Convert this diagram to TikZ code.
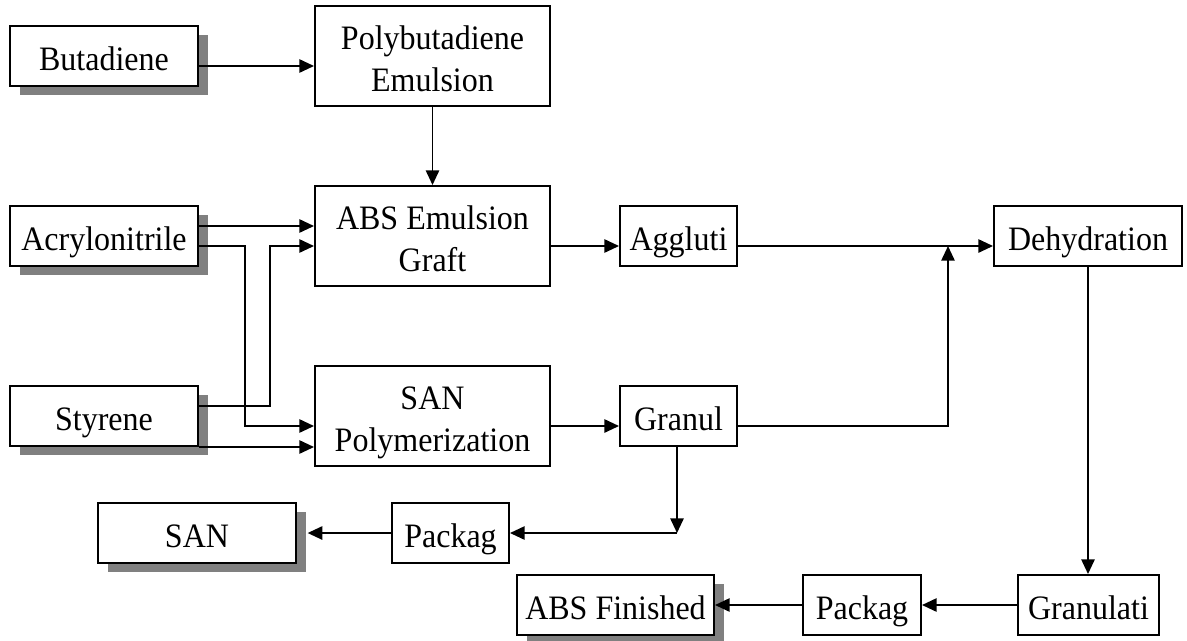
\documentclass[tikz,border=0pt]{standalone}
\usepackage{fontspec}
\usepackage{graphicx}
\setmainfont{Liberation Serif}
\usetikzlibrary{arrows.meta,shadows}
\newcommand\oneline[1]{\raisebox{-10.7pt}[0pt][0pt]{\scalebox{1}[1.07]{#1}}}
\newcommand\twoline[2]{\raisebox{4.7pt}[0pt][0pt]{\scalebox{1}[1.07]{\begin{tabular}[t]{@{}c@{}}#1\\#2\end{tabular}}}}
\begin{document}
\begin{tikzpicture}[x=0.75pt,y=-0.75pt,
  box/.style={draw, line width=1.5pt, fill=white, rectangle, inner sep=0pt, font=\fontsize{24}{29.4}\selectfont},
  wh/.style 2 args={minimum width=#1*0.75pt, minimum height=#2*0.75pt},
  sh/.style={general shadow={fill=black!50, shadow xshift=7.5pt, shadow yshift=-6.75pt}},
  arr/.style={line width=1.3pt, -{Triangle[length=11pt,width=10pt]}}]
\useasboundingbox (0,0) rectangle (1187,640);
\node[box,sh,wh={188}{60}] (but) at (104,56) {\oneline{Butadiene}};
\node[box,wh={235}{100}] (poly) at (432.5,56) {\twoline{Polybutadiene}{Emulsion}};
\node[box,wh={235}{100}] (abs) at (432.5,236) {\twoline{ABS Emulsion}{Graft}};
\node[box,sh,wh={188}{60}] (acr) at (104,236) {\oneline{Acrylonitrile}};
\node[box,wh={117}{60}] (agg) at (678.5,236) {\oneline{Aggluti}};
\node[box,wh={188}{60}] (deh) at (1088,236) {\oneline{Dehydration}};
\node[box,sh,wh={188}{60}] (sty) at (104,416) {\oneline{Styrene}};
\node[box,wh={235}{100}] (san) at (432.5,416) {\twoline{SAN}{Polymerization}};
\node[box,wh={117}{60}] (gra) at (678.5,416) {\oneline{Granul}};
\node[box,wh={117}{60}] (pk1) at (450.5,533) {\oneline{Packag}};
\node[box,sh,wh={198}{60}] (sanp) at (197,533) {\oneline{SAN}};
\node[box,sh,wh={197}{60}] (fin) at (615.5,605) {\oneline{ABS Finished}};
\node[box,wh={118}{60}] (pk2) at (862,605) {\oneline{Packag}};
\node[box,wh={141}{60}] (gti) at (1088.5,605) {\oneline{Granulati}};
\coordinate (j1) at (948,246);
\coordinate (j2) at (677,533);
\draw[arr] (but.east |- 0,66) -- (poly.west |- 0,66);
\draw[arr] (poly.south) -- (abs.north);
\draw[arr] (acr.east |- 0,226) -- (abs.west |- 0,226);
\draw[arr] (acr.east |- 0,246) -| (245,426) -- (san.west |- 0,426);
\draw[arr] (sty.east |- 0,406) -| (270,246) -- (abs.west |- 0,246);
\draw[arr] (sty.south east) -- (san.west |- sty.south east);
\draw[arr] (abs.east |- 0,246) -- (agg.west |- 0,246);
\draw[arr] (agg.east |- 0,246) -- (deh.west |- 0,246);
\draw[arr] (san.east |- 0,426) -- (gra.west |- 0,426);
\draw[arr] (gra.east |- 0,426) -| (j1);
\draw[arr] (gra.south -| j2) -- (j2);
\draw[arr] (j2) -- (pk1.east);
\draw[arr] (pk1.west) -- ([xshift=8pt]sanp.east);
\draw[arr] (deh.south) -- (deh.south |- gti.north);
\draw[arr] (gti.west) -- (pk2.east);
\draw[arr] (pk2.west) -- (fin.east);
\end{tikzpicture}
\end{document}
